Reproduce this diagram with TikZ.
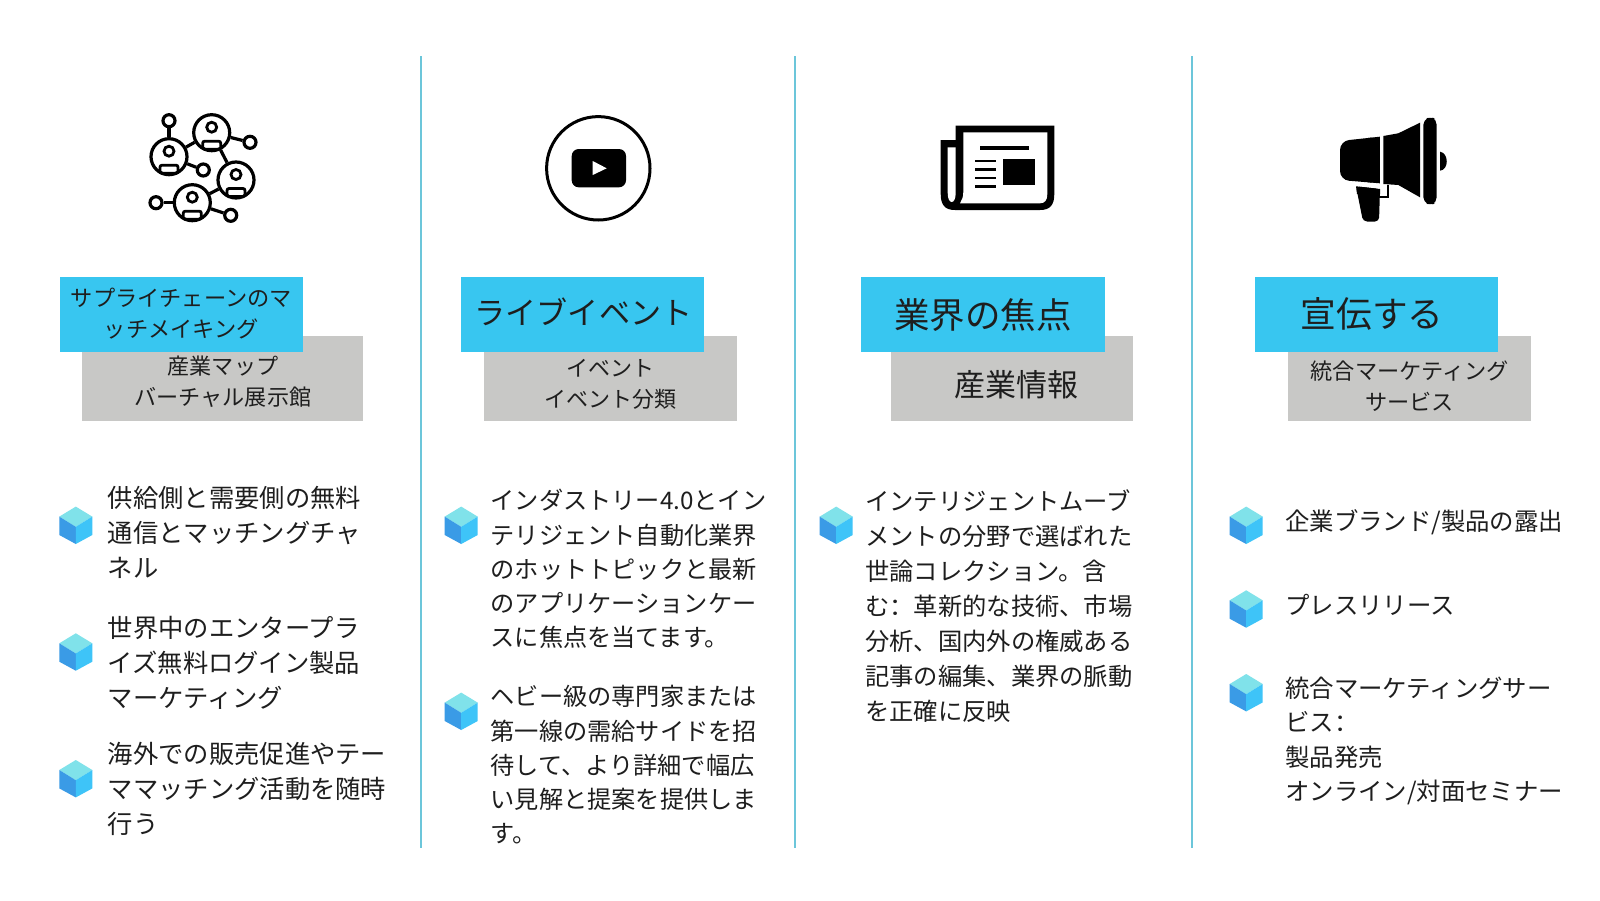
\documentclass[tikz,border=0pt]{standalone}
\usepackage{fontspec}
\setmainfont{Noto Sans CJK JP}
\newfontfamily\colonfont{Noto Sans CJK SC}
\definecolor{ruleblue}{HTML}{6CC6DA}
\definecolor{boxblue}{HTML}{38C6F0}
\definecolor{boxgrey}{HTML}{C8C8C6}
\definecolor{bodyblack}{HTML}{1E1E1E}
\definecolor{cubetop}{HTML}{80E2EA}
\definecolor{cubeleft}{HTML}{3A9BE6}
\definecolor{cuberight}{HTML}{3EC4F8}
\tikzset{
  labelbox/.style={inner sep=0pt, outer sep=0pt, minimum width=#1},
  labeltext/.style={inner sep=0pt, align=center, text=bodyblack, font=\fontsize{#1}{30.8}\selectfont},
  bodytext/.style n args={2}{inner sep=0pt, anchor=north west, align=left, text=bodyblack, font=\fontsize{#1}{#2}\selectfont},
  person/.style={circle, draw, line width=3.2pt, fill=white, minimum size=36pt, inner sep=0pt},
  dot/.style={circle, draw, line width=3.2pt, fill=white, minimum size=12pt, inner sep=0pt},
}
\begin{document}
\begin{tikzpicture}[y=-1pt, x=1pt]
\newcommand{\hexCube}[2]{%
\begin{scope}[shift={(#1,#2)}]
\fill[cubetop] (0,-18.7) -- (16.5,-8.7) -- (0,1.5) -- (-16.5,-8.7) -- cycle;
\fill[cubeleft] (-16.5,-8.7) -- (0,1.5) -- (0,18.7) -- (-16.5,9.7) -- cycle;
\fill[cuberight] (0,1.5) -- (16.5,-8.7) -- (16.5,9.7) -- (0,18.7) -- cycle;
\end{scope}}
\newcommand{\personMark}[2]{%
\draw[line width=2.8pt] (#1,#2-5.5) circle (5pt);
\draw[line width=2.8pt,rounded corners=2pt] (#1-9,#2+8.5) rectangle (#1+9,#2+16.5);
}
\useasboundingbox (0,0) rectangle (1600,900);
\fill[white] (0,0) rectangle (1600,900);

\foreach \x in {420.7,795,1192.4} {
	\draw[ruleblue,line width=2pt] (\x,56) -- (\x,848.3);
}

\node[person] (personA) at (169,156.7) {};
\node[person] (personB) at (211.7,132.7) {};
\node[person] (personC) at (236,180) {};
\node[person] (personD) at (192.3,202.7) {};
\node[dot] (dotA) at (169,120.7) {};
\node[dot] (dotB) at (250,142.3) {};
\node[dot] (dotC) at (203.3,170) {};
\node[dot] (dotD) at (156,202.7) {};
\node[dot] (dotE) at (230.7,215.3) {};
\draw[line width=3.2pt] (personA) -- (dotA);
\draw[line width=3.2pt] (personA) -- (personB);
\draw[line width=3.2pt] (personA) -- (dotC);
\draw[line width=3.2pt] (personB) -- (dotB);
\draw[line width=3.2pt] (personB) -- (personC);
\draw[line width=3.2pt] (personC) -- (personD);
\draw[line width=3.2pt] (personD) -- (dotD);
\draw[line width=3.2pt] (personD) -- (dotE);
\personMark{169}{156.7}
\personMark{211.7}{132.7}
\personMark{236}{180}
\personMark{192.3}{202.7}

\draw[line width=3pt] (598.3,168.3) circle (51.7pt);
\fill[black,rounded corners=7pt] (571.7,149) rectangle (626,187.3);
\fill[white] (592.7,161) -- (606.7,168.3) -- (592.7,175) -- cycle;

\fill[black] (955.7,125.7) -- (1054.3,125.7) -- (1054.3,194) .. controls (1054.3,205) and (1050,210) .. (1040,210) -- (955,210) .. controls (945,210) and (940.7,205) .. (940.7,194) -- (940.7,140) -- (955.7,140) -- cycle;
\fill[white] (963.3,132.3) -- (1047.3,132.3) -- (1047.3,194) .. controls (1047.3,200) and (1045,203.3) .. (1040,203.3) -- (960,203.3) .. controls (962,200) and (963.3,197) .. (963.3,192) -- cycle;
\fill[white] (947.7,147.3) -- (955.7,147.3) -- (955.7,193) .. controls (955.7,205) and (947.7,205) .. (947.7,193) -- cycle;
\fill[black] (980,145.7) rectangle (1029.3,150.3);
\foreach \y in {161,169.7,178,186.7} {
	\draw[line width=2.5pt] (975,\y) -- (995.7,\y);
}
\fill[black] (1003.3,159.3) rectangle (1035.3,185);

\fill[black,rounded corners=9pt] (1340,141) -- (1379.8,136.7) -- (1379.8,183.3) -- (1340,180) -- cycle;
\fill[black] (1379.8,160) -- (1379.8,136.7) -- (1368,138) -- (1368,182.3) -- (1379.8,183.3) -- cycle;
\fill[black] (1383.3,136) -- (1398.3,133.3) -- (1420,122.7) -- (1420,197.3) -- (1398.3,185) -- (1383.3,184) -- cycle;
\fill[black,rounded corners=5pt] (1423.3,120) -- (1431,116.5) -- (1436.7,120) -- (1436.7,202) -- (1431,205.5) -- (1423.3,202) -- cycle;
\fill[black] (1440,151.7) .. controls (1449,153) and (1449,170) .. (1440,170.7) -- cycle;
\fill[black,rounded corners=4pt] (1356,186.3) -- (1380,189) -- (1379,221.5) -- (1363,221.5) -- cycle;
\fill[black] (1356,186.3) -- (1380,189) -- (1380,194) -- (1357,194) -- cycle;
\draw[line width=2pt] (1388,185) -- (1388,197) -- (1380,197);

\node[labelbox=281pt, fill=boxgrey, minimum height=85pt] (greyA) at (222.8,378.5) {};
\node[labelbox=252.4pt, fill=boxgrey, minimum height=85pt] (greyB) at (610.5,378.5) {};
\node[labelbox=242.5pt, fill=boxgrey, minimum height=85pt] (greyC) at (1012.2,378.5) {};
\node[labelbox=243pt, fill=boxgrey, minimum height=85pt] (greyD) at (1409.5,378.5) {};
\node[labelbox=243.3pt, fill=boxblue, minimum height=74.4pt] (blueA) at (181.7,314.5) {};
\node[labelbox=243.3pt, fill=boxblue, minimum height=74.4pt] (blueB) at (582.7,314.5) {};
\node[labelbox=243.3pt, fill=boxblue, minimum height=74.4pt] (blueC) at (982.9,314.5) {};
\node[labelbox=243pt, fill=boxblue, minimum height=74.4pt] (blueD) at (1376.4,314.5) {};

\node[labeltext=22.2] (titleA) at (181.3,313.3) {サプライチェーンのマ\\ッチメイキング};
\node[labeltext=31.1] (titleB) at (583.5,311.5) {ライブイベント};
\node[labeltext=35.5] (titleC) at (983,314.6) {業界の焦点};
\node[labeltext=35.7] (titleD) at (1372,314.2) {宣伝する};
\node[labeltext=22.1] (subA) at (223,382) {産業マップ\\バーチャル展示館};
\node[labeltext=22] (subB) at (610.3,384) {イベント\\イベント分類};
\node[labeltext=31] (subC) at (1016.3,384.6) {産業情報};
\node[labeltext=22.2] (subD) at (1409.6,386.2) {統合マーケティング\\サービス};

\foreach \x/\y in {75.8/525.3, 75.8/652, 75.8/778.7, 461.2/525.3, 461.2/711.3, 836.2/525.3, 1246.2/525.3, 1246.2/609, 1246.2/692.7} {
	\hexCube{\x}{\y}
}

\node[bodytext={25.3}{34.9}] (itemAa) at (107.7,486) {供給側と需要側の無料\\通信とマッチングチャ\\ネル};
\node[bodytext={25.3}{34.9}] (itemAb) at (107.7,616) {世界中のエンタープラ\\イズ無料ログイン製品\\マーケティング};
\node[bodytext={25.3}{34.9}] (itemAc) at (107.7,742.5) {海外での販売促進やテー\\ママッチング活動を随時\\行う};
\node[bodytext={24.2}{34.2}] (itemBa) at (490.5,489.3) {インダストリー4.0とイン\\テリジェント自動化業界\\のホットトピックと最新\\のアプリケーションケー\\スに焦点を当てます。};
\node[bodytext={24.2}{34.2}] (itemBb) at (490.5,685.3) {ヘビー級の専門家または\\第一線の需給サイドを招\\待して、より詳細で幅広\\い見解と提案を提供しま\\す。};
\node[bodytext={24.3}{35.1}] (itemCa) at (865,489.3) {インテリジェントムーブ\\メントの分野で選ばれた\\世論コレクション。含\\む{\colonfont：}革新的な技術、市場\\分析、国内外の権威ある\\記事の編集、業界の脈動\\を正確に反映};
\node[bodytext={24.4}{34.4}] (itemDa) at (1285,509.2) {企業ブランド/製品の露出};
\node[bodytext={24.4}{34.4}] (itemDb) at (1285,594.5) {プレスリリース};
\node[bodytext={24.4}{34.4}] (itemDc) at (1285,676.8) {統合マーケティングサー\\ビス{\colonfont：}\\製品発売\\オンライン/対面セミナー};
\end{tikzpicture}
\end{document}
